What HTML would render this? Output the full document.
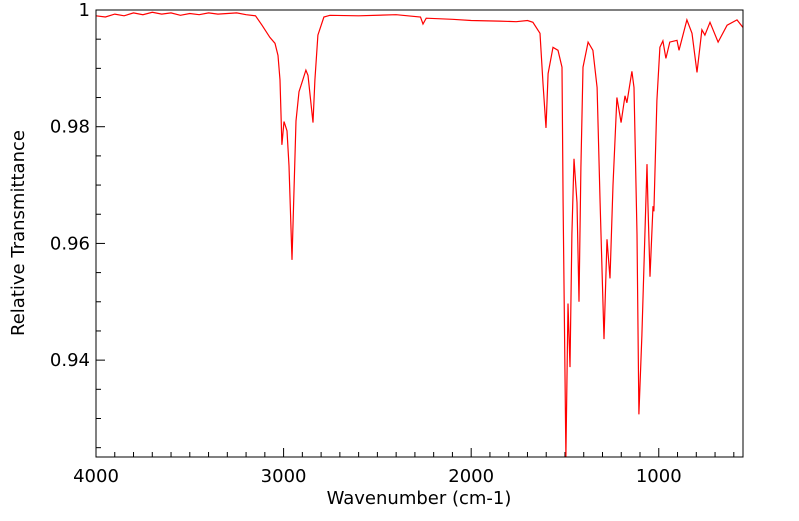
<!DOCTYPE html>
<html><head><meta charset="utf-8"><style>
html,body{margin:0;padding:0;background:#fff;}
svg text{font-family:"DejaVu Sans","Liberation Sans",sans-serif;fill:#000;}
</style></head><body>
<svg id="chart" width="799" height="516" xmlns="http://www.w3.org/2000/svg">
<g id="grid"></g>
<path id="line" fill="none" stroke="#ff0000" stroke-width="1.2"/>
<rect x="96" y="10" width="647" height="447" fill="none" stroke="#000" stroke-width="1"/>
<text x="419" y="504" font-size="18" text-anchor="middle">Wavenumber (cm-1)</text>
<text transform="translate(24,233) rotate(-90)" font-size="18" text-anchor="middle">Relative Transmittance</text>
</svg>
<script>
const wavenumbers=[4000,3950,3900,3850,3800,3750,3700,3650,3600,3550,3500,3450,3400,3350,3300,3250,3200,3150,3115,3073,3046,3030,3019,3009,2998,2982,2971,2955,2934,2918,2902,2881,2870,2843,2833,2817,2785,2753,2600,2400,2270,2257,2240,2100,2000,1850,1760,1700,1671,1633,1617,1601,1590,1564,1537,1516,1510,1495,1484,1473,1463,1452,1436,1425,1415,1404,1377,1351,1329,1313,1292,1276,1260,1244,1223,1201,1180,1170,1143,1132,1116,1106,1090,1063,1058,1047,1031,1026,1010,994,978,962,941,903,892,850,823,796,770,754,727,684,636,583,551];
const transmittance=[0.9990,0.9988,0.9993,0.9990,0.9995,0.9992,0.9996,0.9993,0.9995,0.9991,0.9994,0.9992,0.9995,0.9993,0.9994,0.9995,0.9992,0.9990,0.9974,0.9953,0.9943,0.9922,0.988,0.9769,0.9809,0.9793,0.9733,0.9572,0.981,0.986,0.9876,0.9897,0.9888,0.9807,0.988,0.9957,0.9988,0.9991,0.9990,0.9992,0.9988,0.9976,0.9986,0.9984,0.9982,0.9981,0.9980,0.9982,0.9979,0.996,0.9874,0.9798,0.9891,0.9936,0.9931,0.9902,0.967,0.923,0.9497,0.9388,0.9616,0.9745,0.967,0.95,0.973,0.9902,0.9945,0.9931,0.9867,0.967,0.9436,0.9607,0.954,0.97,0.985,0.9807,0.9853,0.9841,0.9895,0.9867,0.9616,0.9307,0.9443,0.9736,0.967,0.9543,0.9664,0.9655,0.9845,0.9936,0.9947,0.9917,0.9945,0.9948,0.9931,0.9983,0.996,0.9893,0.9966,0.9957,0.9979,0.9945,0.9974,0.9983,0.997];
const xTicks=[4000,3000,2000,1000];
const xTickLabels=["4000","3000","2000","1000"];
const yTicks=[1,0.98,0.96,0.94];
const yTickLabels=["1","0.98","0.96","0.94"];
const X0=96,X1=743,Y0=10,Y1=457,WMAX=4000,WMIN=551,TMAX=1,TMIN=0.9234;
const xs=w=>X0+(WMAX-w)/(WMAX-WMIN)*(X1-X0);
const ys=t=>Y0+(TMAX-t)/(TMAX-TMIN)*(Y1-Y0);
const NS="http://www.w3.org/2000/svg";
const g=document.getElementById('grid');
function ln(x1,y1,x2,y2,name){const l=document.createElementNS(NS,'line');
l.setAttribute('x1',x1);l.setAttribute('y1',y1);l.setAttribute('x2',x2);l.setAttribute('y2',y2);
l.setAttribute('stroke','#000');l.setAttribute('stroke-width','1');


g.appendChild(l);}
for(let w=4000;w>=600;w-=100){const x=xs(w);const major=w%1000===0;ln(x,Y1,x,Y1-(major?9:5),major?'x-major-tick':'x-minor-tick');}
for(let k=0;k<=15;k++){const t=1-k*0.005;if(t<TMIN)break;const y=ys(t);const major=k%4===0;ln(X0,y,X0+(major?9:5),y,major?'y-major-tick':'y-minor-tick');}
xTicks.forEach((w,i)=>{const t=document.createElementNS(NS,'text');t.setAttribute('x',xs(w));t.setAttribute('y',Y1+25);t.setAttribute('font-size','18');t.setAttribute('text-anchor','middle');t.textContent=xTickLabels[i];


g.appendChild(t);});
yTicks.forEach((v,i)=>{const t=document.createElementNS(NS,'text');t.setAttribute('x',X0-6);t.setAttribute('y',ys(v)+6);t.setAttribute('font-size','18');t.setAttribute('text-anchor','end');t.textContent=yTickLabels[i];


g.appendChild(t);});
let d='';wavenumbers.forEach((w,i)=>{d+=(i?'L':'M')+xs(w).toFixed(1)+' '+ys(Math.max(transmittance[i],TMIN)).toFixed(1);});
document.getElementById('line').setAttribute('d',d);
</script>
</body></html>
